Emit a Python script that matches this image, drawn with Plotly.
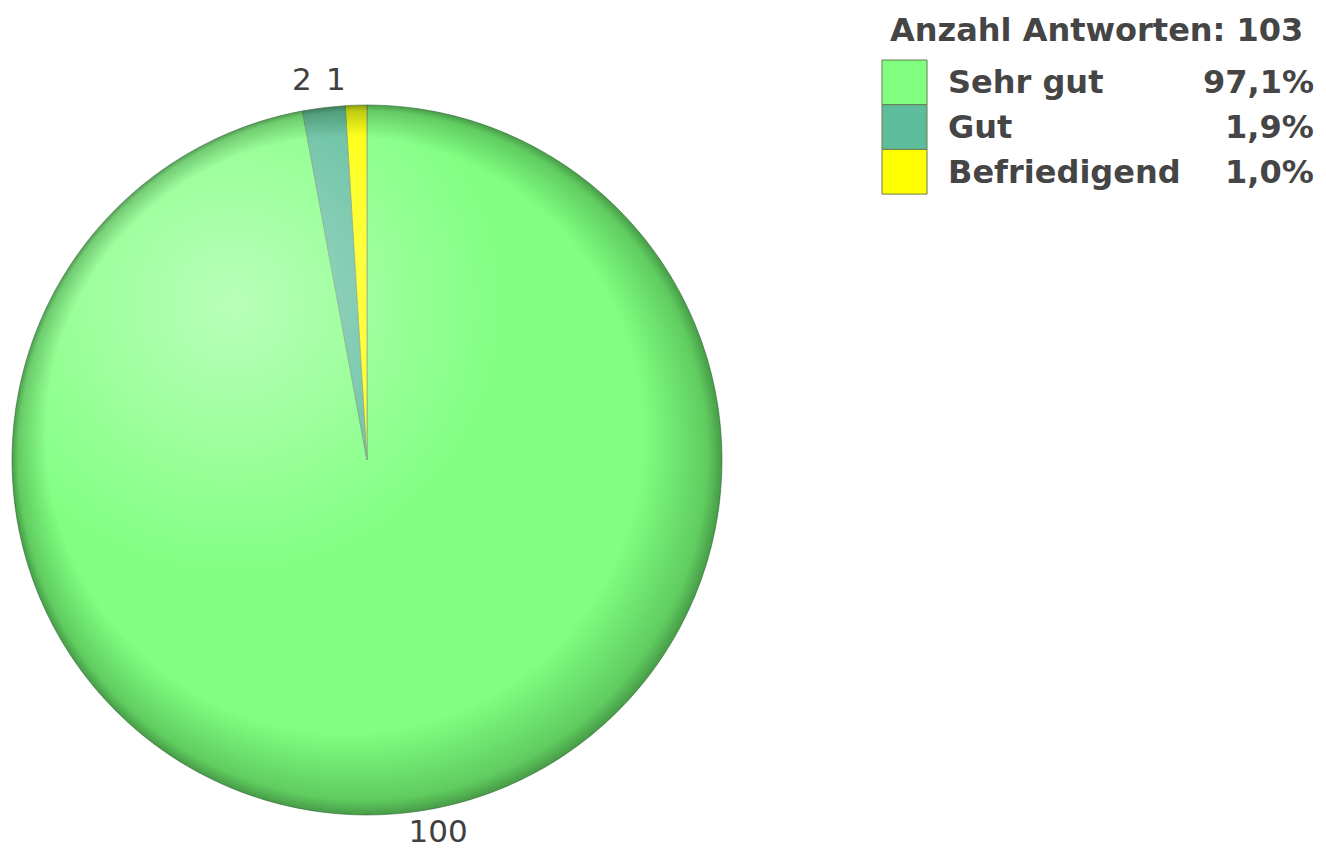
"""Pie chart: Zufriedenheit (Anzahl Antworten: 103)."""

import base64
import math

import plotly.graph_objects as go

labels = ["Sehr gut", "Gut", "Befriedigend"]
counts = [100, 2, 1]
colors = ["#80FF80", "#5CBC9B", "#FFFF00"]

total = sum(counts)
pct_text = [f"{v / total * 100:.1f}%".replace(".", ",") for v in counts]

FONT = "DejaVu Sans"
TEXT_COLOR = "#454545"

# pie placement in pixels (1326 x 853 canvas)
W, H = 1326, 853
cx, cy, r = 367, 460, 355
dom_x = [(cx - r) / W, (cx + r) / W]
dom_y = [(H - cy - r) / H, (H - cy + r) / H]

# plotly would push the two small labels apart, so only the big one is drawn by the trace
big = counts.index(max(counts))
templates = ["%{value}" if i == big else "" for i in range(len(counts))]

fig = go.Figure(go.Pie(
    labels=labels,
    values=counts,
    sort=False,
    direction="clockwise",
    rotation=0,
    marker=dict(colors=colors, line=dict(color="#6f9a74", width=0.8)),
    texttemplate=templates,
    textposition="outside",
    textfont=dict(family=FONT, size=31, color="#404040"),
    hoverinfo="label+value+percent",
    showlegend=False,
    domain=dict(x=dom_x, y=dom_y),
))

# small slice labels just above the rim, horizontally at their mid angle
acc = 0
for i, v in enumerate(counts):
    mid = (acc + v / 2) / total * 2 * math.pi
    acc += v
    if i == big:
        continue
    rr = r + 26
    fig.add_annotation(
        text=str(v), x=(cx + rr * math.sin(mid)) / W, y=1 - (cy - rr) / H,
        xref="paper", yref="paper", xanchor="right", yanchor="middle", xshift=-7,
        showarrow=False, font=dict(family=FONT, size=31, color="#404040"),
    )

# soft 3D look: highlight top-left, darker rim bottom-right
svg = """<svg xmlns="http://www.w3.org/2000/svg" width="200" height="200" viewBox="0 0 200 200">
<defs>
<radialGradient id="h" cx="0.31" cy="0.28" r="0.4">
<stop offset="0" stop-color="#ffffff" stop-opacity="0.45"/>
<stop offset="1" stop-color="#ffffff" stop-opacity="0"/>
</radialGradient>
<radialGradient id="s" cx="0.5" cy="0.5" r="0.5" fx="0.3" fy="0.28">
<stop offset="0.84" stop-color="#003300" stop-opacity="0"/>
<stop offset="0.97" stop-color="#003300" stop-opacity="0.25"/>
<stop offset="1" stop-color="#002200" stop-opacity="0.45"/>
</radialGradient>
</defs>
<circle cx="100" cy="100" r="100" fill="url(#h)"/>
<circle cx="100" cy="100" r="100" fill="url(#s)"/>
</svg>"""
fig.add_layout_image(
    source="data:image/svg+xml;base64," + base64.b64encode(svg.encode()).decode(),
    xref="paper", yref="paper",
    x=dom_x[0], y=dom_y[1], sizex=dom_x[1] - dom_x[0], sizey=dom_y[1] - dom_y[0],
    xanchor="left", yanchor="top", sizing="stretch", layer="above",
)

# legend built by hand so the percentages can sit right-aligned
fig.add_annotation(
    text="<b>Anzahl Antworten: %d</b>" % total,
    x=1096 / W, y=1 - 30 / H, xref="paper", yref="paper",
    xanchor="center", yanchor="middle", showarrow=False,
    font=dict(family=FONT, size=32, color=TEXT_COLOR),
)
row_h = 44.7
top = 60
for i, (name, col, pct) in enumerate(zip(labels, colors, pct_text)):
    y0 = top + i * row_h
    fig.add_shape(
        type="rect", xref="paper", yref="paper",
        x0=882 / W, x1=927 / W, y0=1 - y0 / H, y1=1 - (y0 + row_h) / H,
        fillcolor=col, line=dict(color="#6a7a50", width=1),
    )
    ym = 1 - (y0 + row_h / 2) / H
    fig.add_annotation(
        text=f"<b>{name}</b>", x=946 / W, y=ym, xref="paper", yref="paper",
        xanchor="left", yanchor="middle", showarrow=False,
        font=dict(family=FONT, size=32, color=TEXT_COLOR),
    )
    fig.add_annotation(
        text=f"<b>{pct}</b>", x=1316 / W, y=ym, xref="paper", yref="paper",
        xanchor="right", yanchor="middle", showarrow=False,
        font=dict(family=FONT, size=32, color=TEXT_COLOR),
    )

fig.update_layout(
    width=W, height=H,
    margin=dict(l=0, r=0, t=0, b=0),
    paper_bgcolor="white",
    plot_bgcolor="white",
)
# drop the default 8px body margin so the figure fills the window exactly
fig.write_html(
    "out.html",
    config={"displayModeBar": False},
    post_script="document.body.style.margin='0';",
)
